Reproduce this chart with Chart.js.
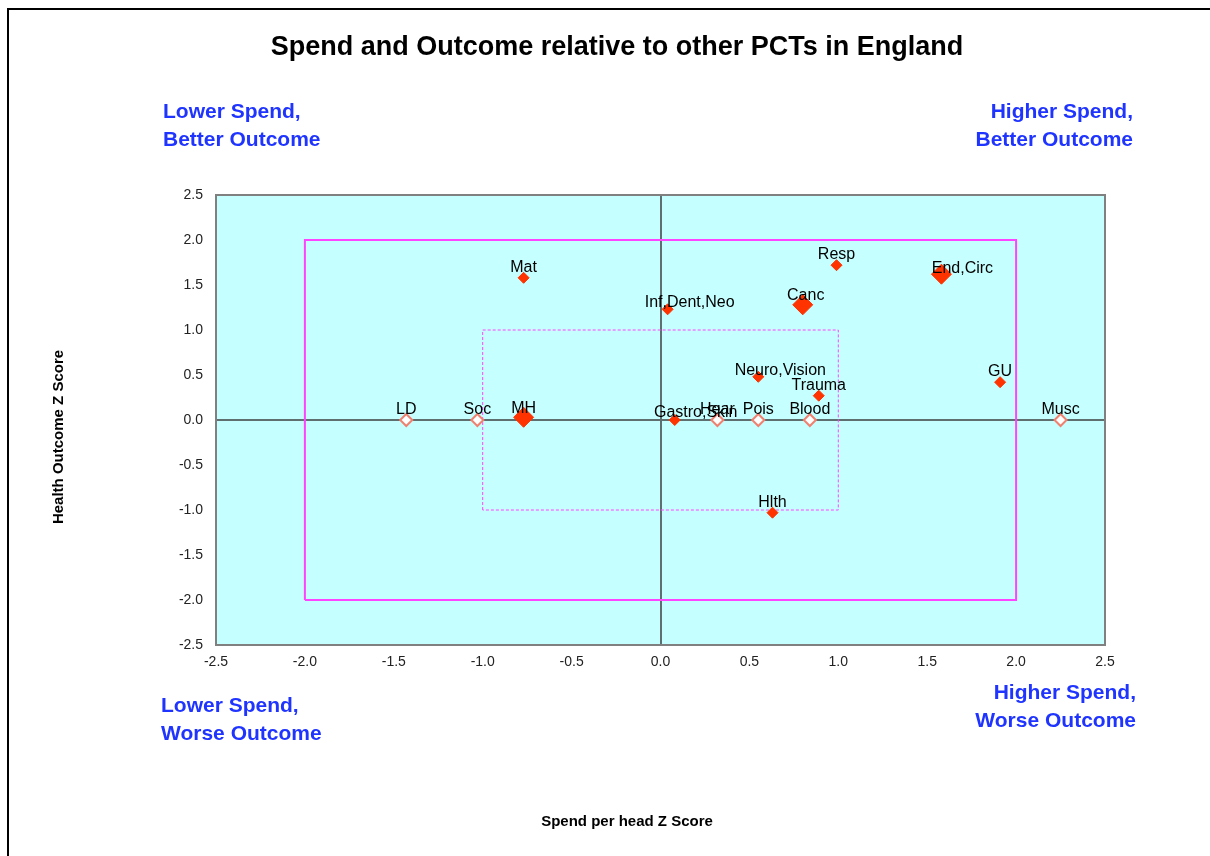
<!DOCTYPE html>
<html>
<head>
<meta charset="utf-8">
<script src="https://cdn.jsdelivr.net/npm/chart.js@4"></script>
<style>
  html, body { margin: 0; padding: 0; background: #fff; }
  #wrap { width: 1210px; height: 856px; }
</style>
</head>
<body>
<div id="wrap"><canvas id="spend" width="1210" height="856"></canvas></div>
<script>
// programme budget categories, spend z score (x) and outcome z score (y)
let bigNames = ["MH", "Canc", "End,Circ"];
let bigSpend = [-0.77, 0.80, 1.58];
let bigOutcome = [0.03, 1.28, 1.62];

let smallNames = ["Mat", "Inf,Dent,Neo", "Resp", "Neuro,Vision", "Trauma", "GU", "Gastro,Skin", "Hlth"];
let smallSpend = [-0.77, 0.04, 0.99, 0.55, 0.89, 1.91, 0.08, 0.63];
let smallOutcome = [1.58, 1.23, 1.72, 0.48, 0.27, 0.42, 0.0, -1.03];

// no outcome measure -> plotted on the zero line
let noOutNames = ["LD", "Soc", "Hear", "Pois", "Blood", "Musc"];
let noOutSpend = [-1.43, -1.03, 0.32, 0.55, 0.84, 2.25];
let noOutOutcome = [0, 0, 0, 0, 0, 0];

let outerBoxX = [-2, -2, 2, 2, -2];
let outerBoxY = [-2, 2, 2, -2, -2];
let innerBoxX = [-1, -1, 1, 1, -1];
let innerBoxY = [-1, 1, 1, -1, -1];

let xTicks = [-2.5, -2.0, -1.5, -1.0, -0.5, 0.0, 0.5, 1.0, 1.5, 2.0, 2.5];
let yTicks = [-2.5, -2.0, -1.5, -1.0, -0.5, 0.0, 0.5, 1.0, 1.5, 2.0, 2.5];

let chartTitle = "Spend and Outcome relative to other PCTs in England";
let xTitle = "Spend per head Z Score";
let yTitle = "Health Outcome Z Score";

// label nudges (pixels) for the combined names
let labelShift = {
  "Inf,Dent,Neo": [22, 4], "Neuro,Vision": [22, 4], "Gastro,Skin": [21, 3],
  "End,Circ": [21, 5], "Canc": [3, 1], "MH": [0, 2]
};

function pts(xs, ys) {
  var out = [];
  for (var i = 0; i < xs.length; i++) out.push({x: xs[i], y: ys[i]});
  return out;
}

var frame = {
  id: 'frame',
  beforeDraw: function(c) {
    var g = c.ctx, a = c.chartArea;
    g.save();
    g.fillStyle = '#fff';
    g.fillRect(0, 0, c.width, c.height);
    g.strokeStyle = '#000';
    g.lineWidth = 2;
    g.beginPath();
    g.moveTo(8, 860); g.lineTo(8, 9); g.lineTo(1215, 9);
    g.stroke();
    g.fillStyle = '#c6ffff';
    g.fillRect(a.left, a.top, a.right - a.left, a.bottom - a.top);
    g.restore();
  },
  afterDraw: function(c) {
    var g = c.ctx, a = c.chartArea;
    g.save();
    g.strokeStyle = '#808080';
    g.lineWidth = 2;
    g.strokeRect(a.left, a.top, a.right - a.left, a.bottom - a.top);

    // point labels
    g.fillStyle = '#000';
    g.font = '16px "Liberation Sans", Arial, sans-serif';
    g.textAlign = 'center';
    g.textBaseline = 'alphabetic';
    var sets = [[bigNames, 0], [smallNames, 1], [noOutNames, 2]];
    sets.forEach(function(s) {
      var meta = c.getDatasetMeta(s[1]);
      s[0].forEach(function(n, i) {
        var el = meta.data[i];
        var sh = labelShift[n] || [0, 0];
        g.fillText(n, el.x + sh[0], el.y - 6 + sh[1]);
      });
    });

    // titles
    g.font = 'bold 27px "Liberation Sans", Arial, sans-serif';
    g.fillText(chartTitle, 617, 55);
    g.font = 'bold 15px "Liberation Sans", Arial, sans-serif';
    g.fillText(xTitle, 627, 826);
    g.translate(63, 437);
    g.rotate(-Math.PI / 2);
    g.fillText(yTitle, 0, 0);
    g.setTransform(1, 0, 0, 1, 0, 0);

    // quadrant captions
    g.fillStyle = '#1f35ff';
    g.font = 'bold 21px "Liberation Sans", Arial, sans-serif';
    g.textAlign = 'left';
    g.fillText('Lower Spend,', 163, 118);
    g.fillText('Better Outcome', 163, 146);
    g.fillText('Lower Spend,', 161, 712);
    g.fillText('Worse Outcome', 161, 740);
    g.textAlign = 'right';
    g.fillText('Higher Spend,', 1133, 118);
    g.fillText('Better Outcome', 1133, 146);
    g.fillText('Higher Spend,', 1136, 699);
    g.fillText('Worse Outcome', 1136, 727);
    g.restore();
  }
};

function zeroLine(ctx) {
  return ctx.tick && ctx.tick.value === 0 ? '#5f6f6f' : 'rgba(0,0,0,0)';
}

var ctx = document.getElementById('spend').getContext('2d');
var chart = new Chart(ctx, {
  type: 'scatter',
  data: {
    datasets: [
      {
        label: 'Large', data: pts(bigSpend, bigOutcome),
        pointStyle: 'rectRot', pointRadius: 10, pointHoverRadius: 10,
        backgroundColor: '#ff3300', borderColor: '#ff3300', borderWidth: 1
      },
      {
        label: 'Other', data: pts(smallSpend, smallOutcome),
        pointStyle: 'rectRot', pointRadius: 5.5, pointHoverRadius: 5.5,
        backgroundColor: '#ff3300', borderColor: '#ff3300', borderWidth: 1
      },
      {
        label: 'No outcome', data: pts(noOutSpend, noOutOutcome),
        pointStyle: 'rectRot', pointRadius: 6, pointHoverRadius: 6,
        backgroundColor: '#ffffff', borderColor: '#f08070', borderWidth: 2
      },
      {
        label: 'inner', data: pts(innerBoxX, innerBoxY), showLine: true,
        borderColor: '#ff44ff', borderWidth: 1, borderDash: [3, 2],
        pointRadius: 0, pointHoverRadius: 0, tension: 0
      },
      {
        label: 'outer', data: pts(outerBoxX, outerBoxY), showLine: true,
        borderColor: '#ff44ff', borderWidth: 2,
        pointRadius: 0, pointHoverRadius: 0, tension: 0
      }
    ]
  },
  options: {
    responsive: false,
    animation: false,
    events: [],
    layout: { padding: { top: 195, right: 105, left: 0, bottom: 0 } },
    plugins: { legend: { display: false }, tooltip: { enabled: false }, title: { display: false } },
    scales: {
      x: {
        type: 'linear', min: -2.5, max: 2.5,
        afterBuildTicks: function(s) { s.ticks = xTicks.map(function(v) { return {value: v}; }); },
        afterFit: function(s) { s.height = 211; },
        grid: { color: zeroLine, lineWidth: 2, drawTicks: false },
        border: { display: false },
        ticks: {
          padding: 9, color: '#222', maxRotation: 0,
          font: { family: '"Liberation Sans", Arial, sans-serif', size: 14 },
          callback: function(v) { return Number(v).toFixed(1); }
        }
      },
      y: {
        type: 'linear', min: -2.5, max: 2.5,
        afterBuildTicks: function(s) { s.ticks = yTicks.map(function(v) { return {value: v}; }); },
        afterFit: function(s) { s.width = 216; },
        grid: { color: zeroLine, lineWidth: 2, drawTicks: false },
        border: { display: false },
        ticks: {
          padding: 13, color: '#222',
          font: { family: '"Liberation Sans", Arial, sans-serif', size: 14 },
          callback: function(v) { return Number(v).toFixed(1); }
        }
      }
    }
  },
  plugins: [frame]
});
</script>
</body>
</html>
